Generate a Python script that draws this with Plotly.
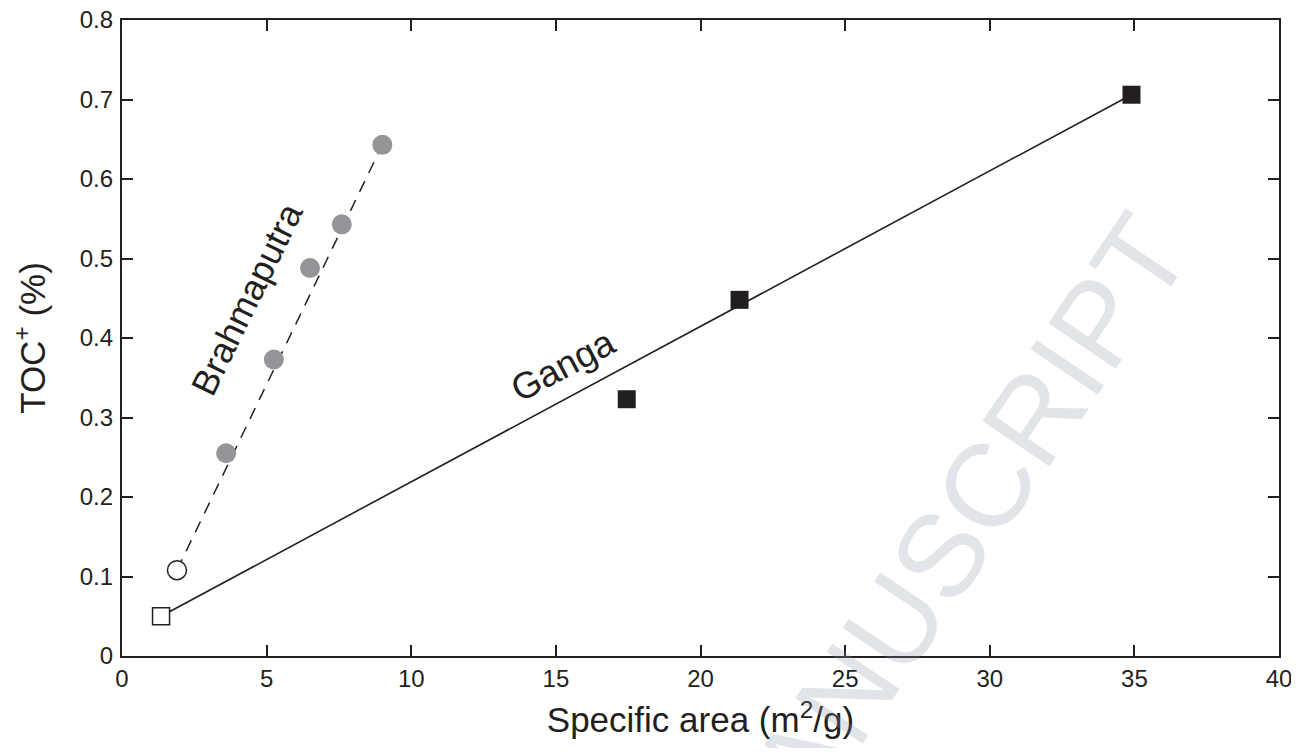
import plotly.graph_objects as go

# ---- data ----
ganga_x = [1.35, 17.45, 21.35, 34.9]
ganga_y = [0.05, 0.323, 0.448, 0.706]
brahma_x = [1.9, 3.6, 5.25, 6.5, 7.6, 9.0]
brahma_y = [0.108, 0.255, 0.373, 0.488, 0.543, 0.643]

x_ticks = [0, 5, 10, 15, 20, 25, 30, 35, 40]
x_tick_labels = ["0", "5", "10", "15", "20", "25", "30", "35", "40"]
y_ticks = [0, 0.1, 0.2, 0.3, 0.4, 0.5, 0.6, 0.7, 0.8]
y_tick_labels = ["0", "0.1", "0.2", "0.3", "0.4", "0.5", "0.6", "0.7", "0.8"]

INK = "#231f20"
GRAY = "#939598"
FONT = "Liberation Sans, Arial, Helvetica, sans-serif"

fig = go.Figure()

# Brahmaputra trend (dashed), first to last point
fig.add_trace(go.Scatter(
    x=[brahma_x[0], brahma_x[-1]], y=[brahma_y[0], brahma_y[-1]],
    mode="lines", line=dict(color=INK, width=1.5, dash="12px,9px"),
    hoverinfo="skip", showlegend=False))
# Ganga trend (solid)
fig.add_trace(go.Scatter(
    x=[ganga_x[0], ganga_x[-1]], y=[ganga_y[0], ganga_y[-1]],
    mode="lines", line=dict(color=INK, width=1.6),
    hoverinfo="skip", showlegend=False))

# Brahmaputra points
fig.add_trace(go.Scatter(
    x=brahma_x[1:], y=brahma_y[1:], mode="markers",
    marker=dict(symbol="circle", size=20, color=GRAY, line=dict(width=0)),
    name="Brahmaputra", showlegend=False))
fig.add_trace(go.Scatter(
    x=brahma_x[:1], y=brahma_y[:1], mode="markers",
    marker=dict(symbol="circle", size=19, color="white", line=dict(width=1.5, color=INK)),
    name="Brahmaputra (open)", showlegend=False))

# Ganga points
fig.add_trace(go.Scatter(
    x=ganga_x[1:], y=ganga_y[1:], mode="markers",
    marker=dict(symbol="square", size=18, color=INK, line=dict(width=0)),
    name="Ganga", showlegend=False))
fig.add_trace(go.Scatter(
    x=ganga_x[:1], y=ganga_y[:1], mode="markers",
    marker=dict(symbol="square", size=17, color="white", line=dict(width=1.5, color=INK)),
    name="Ganga (open)", showlegend=False))

fig.add_annotation(x=4.32, y=0.45, text="Brahmaputra", showarrow=False,
                   xanchor="center", yanchor="middle",
                   textangle=-64, font=dict(family=FONT, size=36, color=INK))
fig.add_annotation(x=15.25, y=0.366, text="Ganga", showarrow=False,
                   xanchor="center", yanchor="middle",
                   textangle=-28, font=dict(family=FONT, size=37, color=INK))

# watermark
fig.add_annotation(xref="paper", yref="paper", x=0.546, y=-0.277,
                   xanchor="center", yanchor="middle",
                   text="ACCEPTED MANUSCRIPT", showarrow=False, textangle=-56,
                   font=dict(family=FONT, size=118, color="rgba(135,147,167,0.25)"))

axis_common = dict(
    showline=True, linecolor=INK, linewidth=2.3, mirror="ticks",
    ticks="inside", ticklen=11, tickwidth=2, tickcolor=INK,
    showgrid=False, zeroline=False, automargin=False,
    ticklabeloverflow="allow",
    tickfont=dict(family=FONT, size=24, color=INK),
)

# the page body adds an 8px margin, so the figure is sized to fit inside the window
fig.update_layout(
    template="none",
    width=1283, height=740,
    margin=dict(l=114, r=12, t=12, b=92),
    paper_bgcolor="white", plot_bgcolor="white",
    xaxis=dict(range=[0, 40], tickvals=x_ticks, ticktext=x_tick_labels,
               title=dict(text="Specific area (m<sup>2</sup>/g)",
                          font=dict(family=FONT, size=35, color=INK), standoff=17),
               **axis_common),
    yaxis=dict(range=[0, 0.8], tickvals=y_ticks, ticktext=y_tick_labels,
               ticklabelstandoff=2,
               title=dict(text="TOC<sup>+</sup> (%)",
                          font=dict(family=FONT, size=35, color=INK), standoff=27),
               **axis_common),
    showlegend=False,
)

fig.write_html("out.html")
